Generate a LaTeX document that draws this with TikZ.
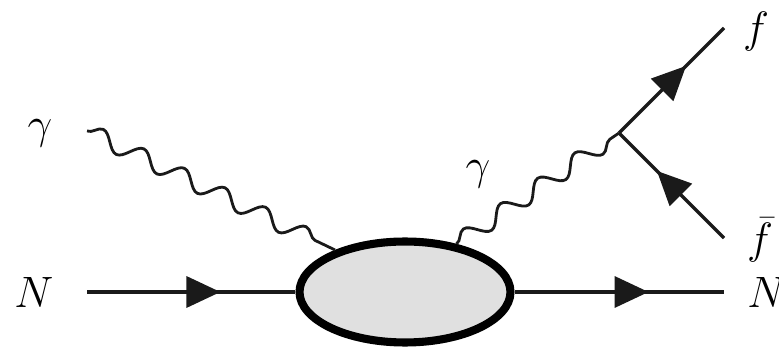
\RequirePackage{fix-cm}
\documentclass[tikz,border=0pt]{standalone}
\usepackage{amsmath,amssymb}
\usepackage{tikz}
\usetikzlibrary{arrows.meta,decorations.pathmorphing,decorations.markings,shapes.geometric}
\definecolor{BlobGray}{HTML}{E0E0E0}
\definecolor{LineBlack}{HTML}{1A1A1A}
\tikzset{
  fermion/.style={line width=2pt,draw=LineBlack,postaction={decorate},
    decoration={markings,mark=at position #1 with {\arrow{Triangle[length=0.68cm,width=0.62cm]}}}},
  fermion/.default=0.64,
  photon/.style={line width=1.6pt,draw=LineBlack,decorate,
    decoration={snake,segment length=0.9cm,amplitude=0.17cm}},
  lbl/.style={font=\fontsize{25}{30}\selectfont},
}

\begin{document}
\begin{tikzpicture}[x=0.02cm,y=-0.02cm]
  \useasboundingbox (0,0) rectangle (779,348);
  \node[ellipse,draw=black,line width=4.6pt,fill=BlobGray,minimum width=4.22cm,minimum height=2.02cm,inner sep=0pt] (blob) at (405,292) {};
  \coordinate (nin) at (87,292);
  \coordinate (nout) at (724,292);
  \coordinate (gin) at (87,131);
  \coordinate (vtx) at (619,133);
  \coordinate (fend) at (724,28);
  \coordinate (fbend) at (724,238);
  \node[lbl] (Nin) at (34,292) {$N$};
  \node[lbl] (Nout) at (767,292) {$N$};
  \node[lbl] (gamin) at (40,133) {$\gamma$};
  \node[lbl] (gamout) at (478,174) {$\gamma$};
  \node[lbl] (flab) at (756,32) {$f$};
  \node[lbl] (fblab) at (760,240) {$\bar f$};
  \draw[fermion] (nin) -- (blob.west);
  \draw[fermion] (blob.east) -- (nout);
  \draw[photon] (gin) -- (blob.149);
  \draw[photon] (blob.43) -- (vtx);
  \draw[fermion] (vtx) -- (fend);
  \draw[fermion] (fbend) -- (vtx);
\end{tikzpicture}
\end{document}
